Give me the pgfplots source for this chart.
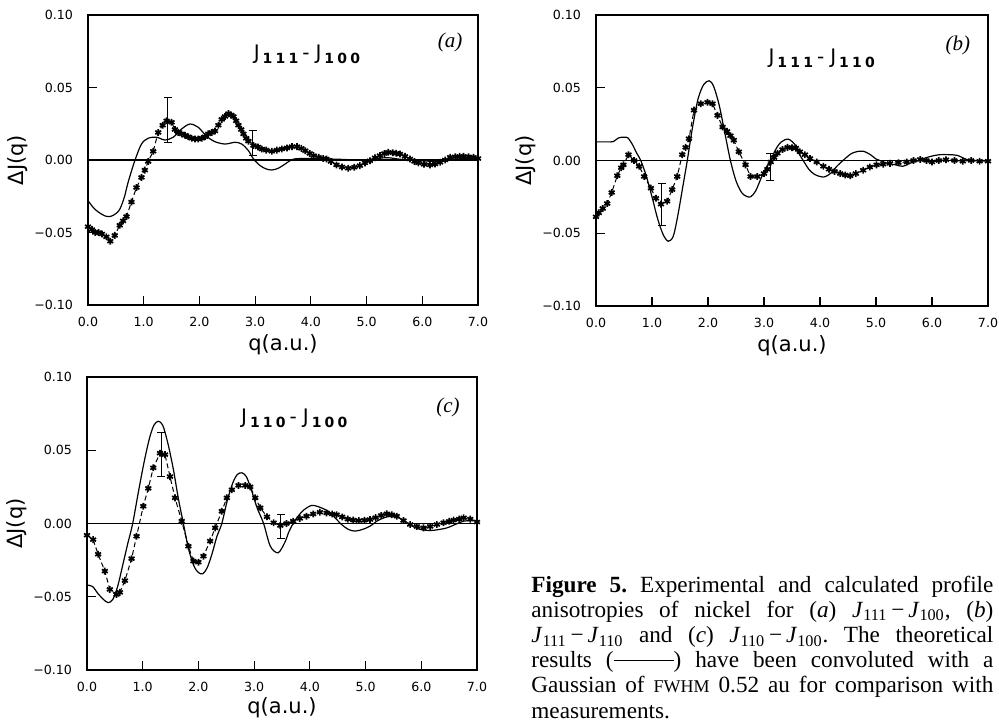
\documentclass[border=0pt]{standalone}
\usepackage{fontspec}
\setmainfont{Liberation Serif}
\newfontfamily\plotfont{DejaVu Sans}
\usepackage{pgfplots}
\pgfplotsset{compat=1.18}

\newcommand{\sub}[1]{\raisebox{-2pt}{\bfseries\fontsize{7}{7}\selectfont #1}}
\newcommand{\paneltitle}[2]{J\kern1.5pt\sub{#1}\kern2pt-\kern3pt J\kern1.5pt\sub{#2}}

\pgfplotsset{
  panel/.style={
    scale only axis, width=195pt, height=145pt,
    xmin=0, xmax=7, ymin=-0.1, ymax=0.1,
    xtick={0,1,2,3,4,5,6,7},
    xticklabels={0.0,1.0,2.0,3.0,4.0,5.0,6.0,7.0},
    ytick={-0.1,-0.05,0,0.05,0.1},
    yticklabels={−0.10,−0.05,0.00,0.05,0.10},
    tick align=inside, xtick pos=bottom, ytick pos=left,
    major tick length=4.5pt,
    tick style={black, line width=0.6pt},
    ticklabel style={font=\plotfont\fontsize{6.3}{7}\selectfont},
    xticklabel style={yshift=-2.5pt},
    yticklabel style={xshift=-4pt},
    xlabel={q(a.u.)}, ylabel={ΔJ(q)},
    label style={font=\plotfont\fontsize{10.5}{12}\selectfont},
    xlabel style={at={(axis description cs:0.5,0)}, anchor=center, yshift=-20pt},
    ylabel style={at={(axis description cs:-0.18,0.5)}, anchor=center},
    axis line style={line width=0.6pt},
  },
  theory/.style={black, line width=0.6pt, smooth, tension=0.5, mark=none},
  expt/.style={black, line width=0.5pt, dash pattern=on 2.5pt off 1.5pt,
    mark=asterisk, mark size=1.7pt, mark options={solid, line width=0.85pt}},
  ebar/.style={black, line width=0.5pt, mark=-, mark size=2pt,
    mark options={solid}},
  zero/.style={black, line width=0.6pt, mark=none},
}

\pgfplotstableread{
q v
0 -0.028
0.1 -0.033
0.19 -0.036
0.3 -0.0385
0.40 -0.039
0.5 -0.037
0.57 -0.034
0.65 -0.026
0.72 -0.0154
0.84 -0.0005
0.96 0.011
1.08 0.015
1.23 0.0157
1.38 0.0138
1.53 0.0157
1.68 0.0214
1.83 0.0248
1.98 0.0225
2.13 0.0163
2.28 0.0126
2.46 0.011
2.64 0.0122
2.76 0.011
2.88 0.0064
2.97 0.0007
3.09 -0.0039
3.2 -0.0062
3.30 -0.0069
3.41 -0.0058
3.51 -0.0035
3.68 0.0005
3.9 0.001
4.2 0.0008
4.5 0.0005
4.8 0.0
5.0 0.0
5.2 0.0012
5.4 0.0015
5.6 0.0005
5.8 0.0
6.0 -0.0005
6.2 -0.001
6.4 -0.0005
6.6 0.0005
6.8 0.001
7.0 0.0005
}\thA

\pgfplotstableread{
q v
0.00 -0.046
0.07 -0.048
0.13 -0.050
0.19 -0.050
0.25 -0.051
0.33 -0.053
0.40 -0.056
0.48 -0.052
0.57 -0.045
0.63 -0.042
0.69 -0.039
0.78 -0.029
0.87 -0.019
0.96 -0.012
1.02 -0.007
1.08 -0.001
1.17 0.006
1.26 0.019
1.34 0.024
1.41 0.027
1.50 0.026
1.56 0.021
1.62 0.019
1.68 0.018
1.74 0.017
1.80 0.016
1.86 0.015
1.92 0.0145
1.98 0.0145
2.04 0.015
2.10 0.016
2.16 0.018
2.22 0.019
2.28 0.020
2.34 0.024
2.40 0.028
2.46 0.030
2.52 0.032
2.57 0.031
2.61 0.030
2.66 0.027
2.70 0.024
2.75 0.021
2.79 0.018
2.84 0.015
2.88 0.013
2.97 0.010
3.05 0.009
3.12 0.0076
3.20 0.0068
3.30 0.006
3.39 0.0068
3.48 0.0076
3.57 0.0083
3.66 0.0092
3.75 0.0092
3.83 0.0080
3.90 0.0064
3.98 0.0045
4.05 0.003
4.14 0.0018
4.22 0.001
4.28 0.0007
4.36 -0.001
4.46 -0.0034
4.56 -0.0048
4.67 -0.0057
4.78 -0.005
4.88 -0.0039
4.97 -0.002
5.06 -0.0005
5.15 0.0015
5.24 0.003
5.32 0.0045
5.39 0.0053
5.47 0.005
5.53 0.0046
5.60 0.0041
5.69 0.0025
5.78 0.0007
5.86 -0.001
5.93 -0.002
6.03 -0.003
6.14 -0.0034
6.23 -0.0028
6.32 -0.0016
6.41 0.0
6.50 0.0019
6.59 0.0022
6.67 0.0025
6.74 0.0025
6.83 0.0022
6.92 0.0019
7.00 0.001
}\exA

\pgfplotstableread{
q v
0 0.0128
0.2 0.0128
0.31 0.013
0.40 0.0155
0.5 0.016
0.57 0.0155
0.65 0.011
0.72 0.0055
0.80 0.0
0.9 -0.011
1.0 -0.025
1.1 -0.040
1.2 -0.051
1.29 -0.0555
1.38 -0.052
1.46 -0.038
1.55 -0.018
1.63 0.0
1.72 0.022
1.82 0.042
1.92 0.052
2.02 0.0548
2.10 0.051
2.2 0.038
2.30 0.019
2.40 0.0
2.5 -0.014
2.6 -0.022
2.68 -0.0245
2.76 -0.025
2.85 -0.021
2.95 -0.012
3.05 -0.004
3.12 0.0
3.2 0.007
3.3 0.0125
3.43 0.0147
3.55 0.011
3.62 0.005
3.70 0.0
3.8 -0.006
3.9 -0.0095
4.0 -0.011
4.09 -0.0112
4.2 -0.0085
4.3 -0.004
4.41 0.0
4.55 0.0045
4.65 0.006
4.77 0.0064
4.9 0.004
5.0 0.001
5.07 0.0
5.2 -0.002
5.35 -0.003
5.48 -0.004
5.6 -0.002
5.75 0.0
5.9 0.002
6.05 0.0035
6.14 0.004
6.3 0.004
6.45 0.0035
6.6 0.001
6.7 0.0
6.85 0.0
7.0 0.0
}\thB

\pgfplotstableread{
q v
0.00 -0.0387
0.05 -0.036
0.12 -0.033
0.20 -0.0296
0.28 -0.022
0.38 -0.0105
0.45 -0.005
0.49 -0.003
0.58 0.004
0.68 0.000
0.77 -0.004
0.86 -0.011
0.98 -0.019
1.07 -0.026
1.16 -0.030
1.27 -0.028
1.36 -0.020
1.45 -0.011
1.54 0.004
1.60 0.009
1.66 0.015
1.75 0.0346
1.87 0.039
1.99 0.040
2.08 0.039
2.17 0.031
2.26 0.023
2.34 0.020
2.40 0.017
2.46 0.014
2.55 0.006
2.67 -0.003
2.76 -0.011
2.88 -0.011
3.00 -0.009
3.06 -0.006
3.12 -0.001
3.18 0.002
3.24 0.005
3.33 0.0075
3.42 0.009
3.50 0.0088
3.57 0.0085
3.64 0.006
3.73 0.004
3.82 0.0014
3.94 -0.001
4.06 -0.004
4.16 -0.006
4.26 -0.0075
4.36 -0.009
4.45 -0.010
4.54 -0.0105
4.64 -0.009
4.77 -0.0067
4.89 -0.0045
5.01 -0.003
5.13 -0.0025
5.25 -0.002
5.40 -0.0015
5.55 -0.001
5.67 0.0
5.79 0.0007
5.90 0.0
6.00 -0.001
6.12 0.0
6.25 0.0005
6.40 0.0
6.55 -0.0005
6.70 0.0
6.85 -0.0005
7.00 -0.0005
}\exB

\pgfplotstableread{
q v
0 -0.042
0.1 -0.043
0.2 -0.048
0.3 -0.052
0.38 -0.054
0.46 -0.052
0.55 -0.043
0.65 -0.027
0.73 -0.014
0.82 0.0
0.92 0.021
1.02 0.041
1.12 0.058
1.20 0.067
1.28 0.0698
1.36 0.067
1.45 0.055
1.55 0.037
1.64 0.017
1.73 0.0
1.82 -0.017
1.92 -0.029
2.00 -0.0335
2.08 -0.0343
2.16 -0.030
2.25 -0.020
2.33 -0.009
2.42 0.0
2.52 0.016
2.62 0.028
2.70 0.0335
2.78 0.0346
2.86 0.032
2.95 0.023
3.05 0.011
3.17 0.0
3.29 -0.0155
3.43 -0.020
3.55 -0.013
3.62 -0.006
3.70 0.0
3.80 0.0055
3.9 0.0095
4.03 0.0123
4.15 0.0115
4.33 0.0084
4.45 0.004
4.57 -0.0007
4.69 -0.004
4.81 -0.0052
4.95 -0.004
5.08 -0.0018
5.22 0.002
5.38 0.0045
5.5 0.0048
5.62 0.0035
5.80 -0.001
5.98 -0.004
6.16 -0.0048
6.30 -0.0042
6.46 -0.003
6.62 -0.0005
6.76 0.0016
6.9 0.002
7.0 0.002
}\thC

\pgfplotstableread{
q v
0.00 -0.008
0.11 -0.011
0.20 -0.021
0.32 -0.0325
0.41 -0.045
0.53 -0.0485
0.59 -0.047
0.68 -0.039
0.80 -0.024
0.89 -0.0087
1.01 0.0118
1.10 0.024
1.19 0.038
1.31 0.048
1.40 0.047
1.49 0.032
1.58 0.0175
1.70 0.0016
1.82 -0.0155
1.91 -0.0257
2.00 -0.0264
2.09 -0.0223
2.21 -0.012
2.30 -0.003
2.42 0.0084
2.51 0.0175
2.60 0.023
2.72 0.026
2.84 0.026
2.93 0.025
3.02 0.0175
3.11 0.0107
3.23 0.0046
3.35 0.0005
3.47 -0.0014
3.58 0.0
3.70 0.0016
3.82 0.0035
3.94 0.005
4.06 0.0065
4.18 0.0077
4.30 0.0072
4.40 0.0065
4.48 0.006
4.58 0.0045
4.68 0.003
4.78 0.0023
4.88 0.002
4.98 0.0022
5.08 0.0027
5.18 0.004
5.28 0.0055
5.38 0.0066
5.47 0.006
5.56 0.005
5.68 0.002
5.80 -0.0007
5.92 -0.002
6.04 -0.003
6.16 -0.002
6.28 -0.0007
6.40 0.0005
6.50 0.0015
6.58 0.0023
6.68 0.003
6.76 0.0039
6.88 0.003
7.00 0.001
}\exC

\begin{document}
\begin{tikzpicture}
\useasboundingbox (0,0) rectangle (499.5pt,363pt);

% (a)
\begin{axis}[panel, at={(44pt,210.5pt)}, anchor=south west]
\addplot[zero] coordinates {(0,0) (7,0)};
\addplot[theory] table {\thA};
\addplot[expt] table {\exA};
\addplot[ebar] coordinates {(1.43,0.012) (1.43,0.043)};
\addplot[ebar] coordinates {(2.96,0.003) (2.96,0.020)};
\node[font=\plotfont\fontsize{10}{11}\selectfont] at (axis cs:3.93,0.073) {\paneltitle{1\kern1.6pt1\kern1.6pt1}{1\kern1.6pt0\kern1.6pt0}};
\node[font=\itshape\fontsize{10.5}{12}\selectfont] at (axis cs:6.5,0.081) {(a)};
\end{axis}

% (b)
\begin{axis}[panel, at={(298pt,210pt)}, anchor=south west, width=196pt, height=145.5pt]
\addplot[zero] coordinates {(0,0) (7,0)};
\addplot[theory] table {\thB};
\addplot[expt] table {\exB};
\addplot[ebar] coordinates {(1.17,-0.0444) (1.17,-0.0158)};
\addplot[ebar] coordinates {(3.11,-0.0135) (3.11,0.005)};
\node[font=\plotfont\fontsize{10}{11}\selectfont] at (axis cs:4.03,0.070) {\paneltitle{1\kern1.6pt1\kern1.6pt1}{1\kern1.6pt1\kern1.6pt0}};
\node[font=\itshape\fontsize{10.5}{12}\selectfont] at (axis cs:6.46,0.079) {(b)};
\end{axis}

% (c)
\begin{axis}[panel, at={(43.5pt,28pt)}, anchor=south west, height=146.5pt,
  xlabel style={yshift=1pt}]
\addplot[zero] coordinates {(0,0) (7,0)};
\addplot[theory] table {\thC};
\addplot[expt] table {\exC};
\addplot[ebar] coordinates {(1.33,0.032) (1.33,0.062)};
\addplot[ebar] coordinates {(3.48,-0.0105) (3.48,0.0061)};
\node[font=\plotfont\fontsize{10}{11}\selectfont] at (axis cs:3.72,0.072) {\paneltitle{1\kern1.6pt1\kern1.6pt0}{1\kern1.6pt0\kern1.6pt0}};
\node[font=\itshape\fontsize{10.5}{12}\selectfont] at (axis cs:6.48,0.079) {(c)};
\end{axis}

\node[anchor=north west, inner sep=0pt, text width=231pt, align=justify,
  font=\fontsize{11.6}{12.6}\selectfont]
  at (265.5pt,76pt)
{\frenchspacing\strut\textbf{Figure 5.} Experimental and calculated profile\linebreak
anisotropies of nickel for (\textit{a}) \textit{J}\textsubscript{111}\,−\,\textit{J}\textsubscript{100}, (\textit{b})\linebreak
\textit{J}\textsubscript{111}\,−\,\textit{J}\textsubscript{110} and (\textit{c}) \textit{J}\textsubscript{110}\,−\,\textit{J}\textsubscript{100}. The theoretical\linebreak
results (\rule[0.3em]{30pt}{0.5pt}) have been convoluted with a\linebreak
Gaussian of {\fontsize{9}{9}\selectfont FWHM} 0.52 au for comparison with\linebreak
measurements.\par};
\end{tikzpicture}
\end{document}
